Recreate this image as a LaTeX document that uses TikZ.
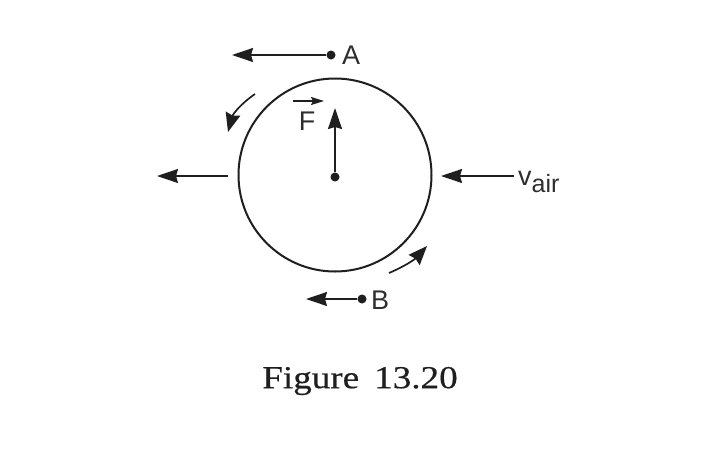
\documentclass[tikz,border=0pt]{standalone}
\usepackage{fontspec}
\setsansfont{Liberation Sans}
\newfontfamily\capfont[FakeStretch=1.16,FakeBold=0.4]{Liberation Serif}
\usetikzlibrary{arrows.meta,positioning}
\tikzset{
  flow/.style={-{Stealth[length=21pt,width=14pt,inset=2pt]},line width=1.7pt,black!88},
  spin/.style={-{Stealth[length=19pt,width=15pt,inset=2pt]},line width=1.7pt,black!88},
  lbl/.style={font=\sffamily\fontsize{27}{28}\selectfont,text=black!82,inner sep=0pt},
  pt/.style={circle,fill=black!88,inner sep=0pt,minimum size=9pt}
}
\begin{document}
\begin{tikzpicture}[x=1pt,y=-1pt]
  \useasboundingbox (0,0) rectangle (702,456);
  \draw[line width=2pt,black!88] (335,175) circle [radius=96.5];
  \node[pt] (centre) at (335,177) {};
  \node[pt] (ptA) at (331,55) {};
  \node[pt] (ptB) at (362,299) {};
  \node[lbl,anchor=west] (labA) at (342,55) {A};
  \node[lbl,anchor=west] (labB) at (371,300) {B};
  \node[lbl] (labF) at (307,121) {F};
  \node[lbl,anchor=west] (labV) at (518,182) {v\raisebox{-7pt}{\fontsize{25}{25}\selectfont air}};
  \coordinate (endA) at (232,55);
  \coordinate (endB) at (306,299);
  \coordinate (leftS) at (228,176);
  \coordinate (leftE) at (157,176);
  \coordinate (rightS) at (514,176);
  \coordinate (rightE) at (441,176);
  \coordinate (upE) at (335,108);
  \coordinate (fS) at (293,101);
  \coordinate (fE) at (324,101);
  \coordinate (spinAS) at (255,94);
  \coordinate (spinAE) at (228,132);
  \coordinate (spinBS) at (389,273);
  \coordinate (spinBE) at (427,246);
  \draw[flow] (ptA) -- (endA);
  \draw[flow] (ptB) -- (endB);
  \draw[flow] (leftS) -- (leftE);
  \draw[flow] (rightS) -- (rightE);
  \draw[flow] (centre) -- (upE);
  \draw[-{Stealth[length=13pt,width=8pt,inset=2pt]},line width=1.4pt,black!88] (fS) -- (fE);
  \draw[spin] (spinAS) to[bend right=20] (spinAE);
  \draw[spin] (spinBS) to[bend right=12] (spinBE);
  \node[inner sep=0pt,text=black!88] (caption) at (360,381) {\capfont\fontsize{32}{34}\selectfont Figure\hspace{15pt}13.20};
\end{tikzpicture}
\end{document}
